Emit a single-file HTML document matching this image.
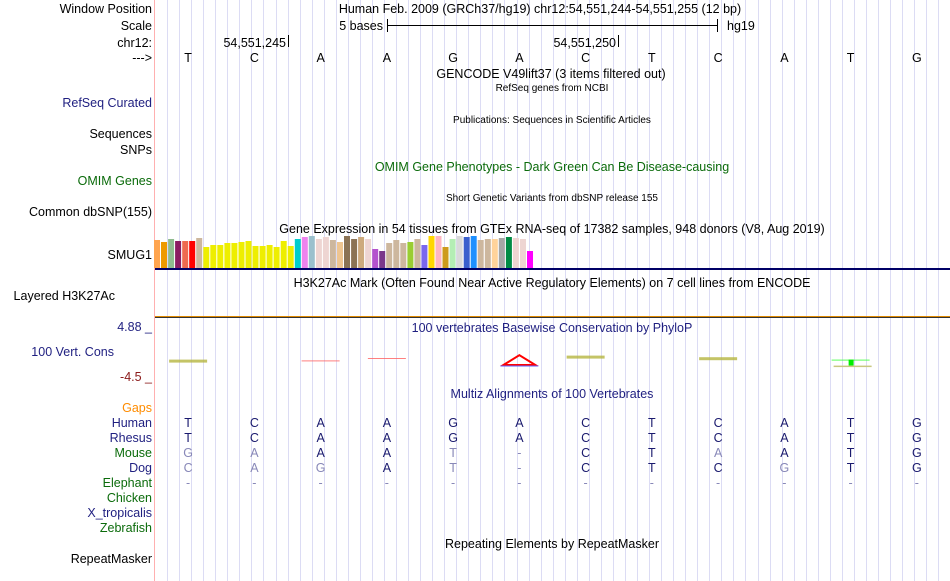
<!DOCTYPE html>
<html><head><meta charset="utf-8"><style>
html,body{margin:0;padding:0;background:#fff;width:950px;height:581px;overflow:hidden}
svg{display:block;font-family:"Liberation Sans",sans-serif}
</style></head><body>
<svg id="chart" width="950" height="581" viewBox="0 0 950 581" xmlns="http://www.w3.org/2000/svg">
<g id="grid"></g>
<line x1="154.5" y1="0" x2="154.5" y2="581" stroke="#ffb0b0" stroke-width="1"/>
<g id="labels" font-size="12.5" text-anchor="end">
<text x="152" y="13" fill="#000">Window Position</text>
<text x="152" y="30" fill="#000">Scale</text>
<text x="152" y="47" fill="#000">chr12:</text>
<text x="152" y="62" fill="#000">---&gt;</text>
<text x="152" y="107" fill="#1f1f80">RefSeq Curated</text>
<text x="152" y="138" fill="#000">Sequences</text>
<text x="152" y="154" fill="#000">SNPs</text>
<text x="152" y="185" fill="#0b6b0b">OMIM Genes</text>
<text x="152" y="216" fill="#000">Common dbSNP(155)</text>
<text x="152" y="259" fill="#000">SMUG1</text>
<text x="115" y="300" fill="#000">Layered H3K27Ac</text>
<text x="152" y="331" fill="#1f1f80">4.88 _</text>
<text x="114" y="356" fill="#1f1f80">100 Vert. Cons</text>
<text x="152" y="381" fill="#8b1a1a">-4.5 _</text>
<text x="152" y="412" fill="#ff8c00">Gaps</text>
<text x="152" y="427" fill="#1f1f80">Human</text>
<text x="152" y="442" fill="#1f1f80">Rhesus</text>
<text x="152" y="457" fill="#0b6b0b">Mouse</text>
<text x="152" y="472" fill="#1f1f80">Dog</text>
<text x="152" y="487" fill="#0b6b0b">Elephant</text>
<text x="152" y="502" fill="#0b6b0b">Chicken</text>
<text x="152" y="517" fill="#1f1f80">X_tropicalis</text>
<text x="152" y="532" fill="#0b6b0b">Zebrafish</text>
<text x="152" y="563" fill="#000">RepeatMasker</text>
</g>
<g font-size="12.5" text-anchor="middle">
<text x="540" y="13">Human Feb. 2009 (GRCh37/hg19)   chr12:54,551,244-54,551,255 (12 bp)</text>
<text x="551" y="78">GENCODE V49lift37 (3 items filtered out)</text>
<text x="552" y="91" font-size="10">RefSeq genes from NCBI</text>
<text x="552" y="123" font-size="10">Publications: Sequences in Scientific Articles</text>
<text x="552" y="171" fill="#0b6b0b">OMIM Gene Phenotypes - Dark Green Can Be Disease-causing</text>
<text x="552" y="201" font-size="10">Short Genetic Variants from dbSNP release 155</text>
<text x="552" y="233">Gene Expression in 54 tissues from GTEx RNA-seq of 17382 samples, 948 donors (V8, Aug 2019)</text>
<text x="552" y="287">H3K27Ac Mark (Often Found Near Active Regulatory Elements) on 7 cell lines from ENCODE</text>
<text x="552" y="332" fill="#1f1f80">100 vertebrates Basewise Conservation by PhyloP</text>
<text x="552" y="398" fill="#1f1f80">Multiz Alignments of 100 Vertebrates</text>
<text x="552" y="548">Repeating Elements by RepeatMasker</text>
</g>
<g font-size="12.5">
<text x="383" y="30" text-anchor="end">5 bases</text>
<line x1="387" y1="25.5" x2="717" y2="25.5" stroke="#000"/>
<line x1="387.5" y1="19" x2="387.5" y2="32" stroke="#000"/>
<line x1="717.5" y1="19" x2="717.5" y2="32" stroke="#000"/>
<text x="727" y="30">hg19</text>
<text x="286" y="47" text-anchor="end">54,551,245</text>
<line x1="288.5" y1="35" x2="288.5" y2="47" stroke="#000"/>
<text x="616" y="47" text-anchor="end">54,551,250</text>
<line x1="618.5" y1="35" x2="618.5" y2="47" stroke="#000"/>
</g>
<g id="bases" font-size="12.5" text-anchor="middle"></g>
<g id="gtex"></g>
<rect x="155" y="268" width="795" height="2" fill="#000066"/>
<rect x="155" y="316" width="795" height="1" fill="#e08a00"/>
<rect x="155" y="317" width="795" height="1" fill="#333"/>
<g id="cons"></g>
<g id="align" font-size="12.5" text-anchor="middle"></g>
</svg>
<script>
const bases = ["T","C","A","A","G","A","C","T","C","A","T","G"];
const species = ["Human","Rhesus","Mouse","Dog","Elephant"];
const speciesSeqs = ["TCAAGACTCATG","TCAAGACTCATG","GAAAT-CTAATG","CAGAT-CTCGTG","------------"];
const gtexValues = [28,26,29,27,27,27,30,21,23,23,25,25,26,27,22,22,23,21,27,22,29,31,32,29,31,28,26,32,29,31,29,19,17,25,28,25,26,29,23,32,32,21,29,32,31,32,28,29,29,30,31,30,29,17];
const gtexColors = ["#FFA54F","#EE9A00","#8FBC8F","#8B1C62","#EE6A50","#FF0000","#CDB79E","#EEEE00","#EEEE00","#EEEE00","#EEEE00","#EEEE00","#EEEE00","#EEEE00","#EEEE00","#EEEE00","#EEEE00","#EEEE00","#EEEE00","#EEEE00","#00CDCD","#EE82EE","#9AC0CD","#EED5D2","#EED5D2","#CDB79E","#EEC591","#8B7355","#8B7355","#CDAA7D","#EED5D2","#B452CD","#7A378B","#CDB79E","#CDB79E","#CDB79E","#9ACD32","#CDB79E","#7A67EE","#FFD700","#FFB6C1","#CD9B1D","#B4EEB4","#D9D9D9","#3A5FCD","#1E90FF","#CDB79E","#CDB79E","#FFD39B","#A6A6A6","#008B45","#EED5D2","#EED5D2","#FF00FF"];
const consValues = [0.3,null,0.2,0.5,null,0.6,0.8,null,0.6,null,0.3,null];
const consColors = ["#b5b540",null,"#ff6060","#ff6060",null,"#ff0000","#b5b540",null,"#b5b540",null,"#33ff33",null];

const NS="http://www.w3.org/2000/svg";
const X0=155, W=795, BW=W/12;
const xBase = i => X0 + BW*i + BW/2;
function mk(tag, attrs, parent){const e=document.createElementNS(NS,tag);for(const k in attrs)e.setAttribute(k,attrs[k]);parent.appendChild(e);return e;}

const grid=document.getElementById('grid');
for(let i=1;i<66;i++){
  const x=Math.round(X0+i*12.05)+0.5;
  const l=mk('line',{x1:x,y1:0,x2:x,y2:581,stroke:'#dcdcf4','stroke-width':1},grid);
  
  
}
const bg=document.getElementById('bases');
bases.forEach((b,i)=>{
  const t=mk('text',{x:xBase(i),y:62},bg); t.textContent=b;
  
  
});
const gt=document.getElementById('gtex');
const gBase=268, gScale=1, gStep=(530-157)/53;
gtexValues.forEach((v,i)=>{
  const r=mk('rect',{x:(157+gStep*i-3).toFixed(1),y:gBase-v*gScale,width:6,height:v*gScale,fill:gtexColors[i]},gt);
  
  
});
const cg=document.getElementById('cons');
const cMid=362;
consValues.forEach((v,i)=>{
  if(v===null)return;
  const x1=xBase(i)-19, x2=xBase(i)+19;
  const y=cMid-v*8;
  if(consColors[i]==="#ff0000"){
    const p=mk('polygon',{points:`${x1+3},${cMid+3} ${xBase(i)},${y-2} ${x2-3},${cMid+3}`,fill:'none',stroke:'#ff0000','stroke-width':2},cg);
    
    
    const b=mk('line',{x1:x1,y1:cMid+4,x2:x2,y2:cMid+4,stroke:'#6060ff'},cg);
    
    
  } else {
    const l=mk('rect',{x:x1,y:y,width:38,height:consColors[i]==="#b5b540"?3:1,fill:consColors[i],opacity:0.8},cg);
    
    
    if(consColors[i]==="#33ff33"){
      const s=mk('rect',{x:xBase(i)-2,y:y,width:5,height:6,fill:'#00ee00'},cg);
      
      
      const o=mk('rect',{x:x1+2,y:y+6,width:38,height:1.5,fill:'#c8c880'},cg);
      
      
    }
  }
});
const ag=document.getElementById('align');
speciesSeqs.forEach((seq,r)=>{
  for(let i=0;i<12;i++){
    const c=seq[i];
    const match=c===bases[i];
    const t=mk('text',{x:xBase(i),y:427+15*r,fill:match?'#1a1a6e':'#8888b8'},ag);
    t.textContent=c;
    
    
  }
});
</script>
</body></html>
